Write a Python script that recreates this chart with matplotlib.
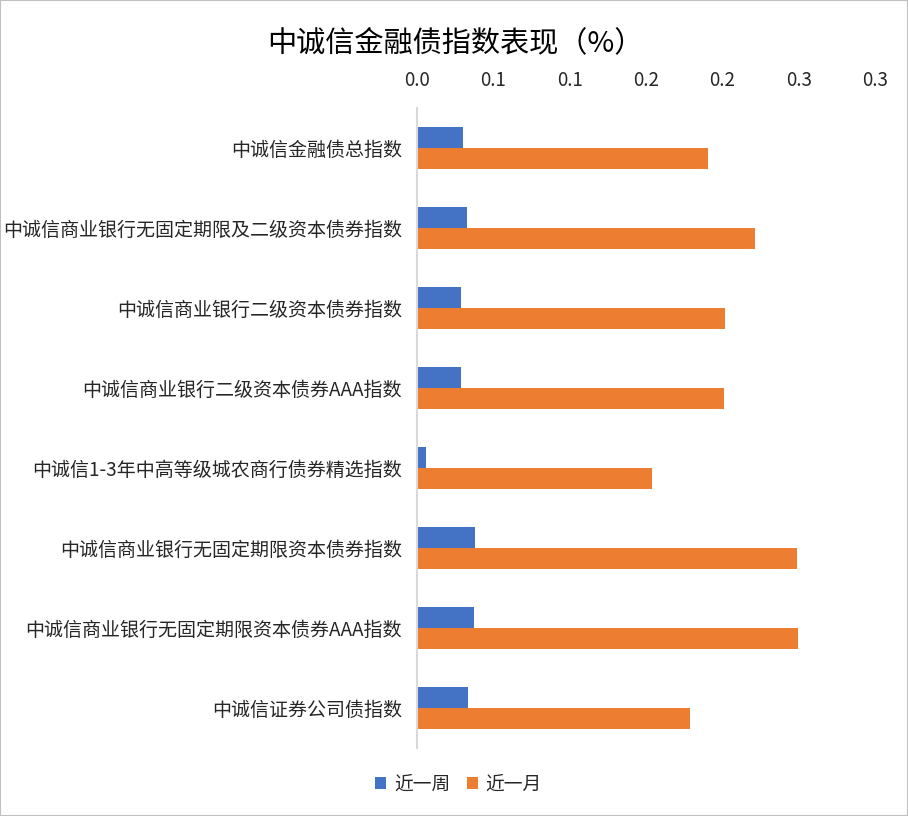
import matplotlib

matplotlib.use("Agg")
import matplotlib.pyplot as plt
import numpy as np
from matplotlib.patches import Rectangle

plt.rcParams["font.family"] = ["Noto Sans CJK SC", "DejaVu Sans"]

categories = [
    "中诚信金融债总指数",
    "中诚信商业银行无固定期限及二级资本债券指数",
    "中诚信商业银行二级资本债券指数",
    "中诚信商业银行二级资本债券AAA指数",
    "中诚信1-3年中高等级城农商行债券精选指数",
    "中诚信商业银行无固定期限资本债券指数",
    "中诚信商业银行无固定期限资本债券AAA指数",
    "中诚信证券公司债指数",
]
week = [0.0302, 0.0328, 0.0289, 0.0289, 0.0061, 0.0380, 0.0374, 0.0334]
month = [0.1908, 0.2214, 0.2018, 0.2012, 0.1536, 0.2490, 0.2496, 0.1786]
tick_values = [0.0, 0.05, 0.10, 0.15, 0.20, 0.25, 0.30]
tick_labels = ["0.0", "0.1", "0.1", "0.2", "0.2", "0.3", "0.3"]

BLUE = "#4472C4"
ORANGE = "#ED7D31"
TEXT = "#262626"

fig = plt.figure(figsize=(9.08, 8.16), dpi=100)
fig.patches.append(Rectangle((0, 0), 1, 1, transform=fig.transFigure,
                             fill=False, edgecolor="#BFBFBF", linewidth=1.5))
ax = fig.add_axes([0.4593, 0.0833, 0.5044, 0.7843])

y = np.arange(len(categories))
h = 0.2625
ax.barh(y - h / 2, week, height=h, color=BLUE, label="近一周")
ax.barh(y + h / 2, month, height=h, color=ORANGE, label="近一月")

ax.set_ylim(len(categories) - 0.5, -0.5)
ax.set_xlim(0, 0.3)
ax.xaxis.tick_top()
ax.set_xticks(tick_values)
ax.set_xticklabels(tick_labels, fontsize=13.5, color=TEXT)
ax.set_yticks(y)
ax.set_yticklabels(categories, fontsize=13.7, color=TEXT)
ax.tick_params(axis="x", length=0, pad=12)
ax.tick_params(axis="y", length=0, pad=11)

for side in ("top", "right", "bottom"):
    ax.spines[side].set_visible(False)
ax.spines["left"].set_color("#D9D9D9")
ax.spines["left"].set_linewidth(1.5)

fig.text(0.502, 0.947, "中诚信金融债指数表现（%）", ha="center", va="center",
         fontsize=21, color="#000000")

fig.legend(loc="center", bbox_to_anchor=(0.505, 0.039), ncol=2, frameon=False,
           fontsize=13.5, handlelength=0.6, handleheight=0.6, handletextpad=0.4,
           columnspacing=0.9, labelcolor=TEXT)

fig.savefig("out.png", dpi=100)
plt.close(fig)
